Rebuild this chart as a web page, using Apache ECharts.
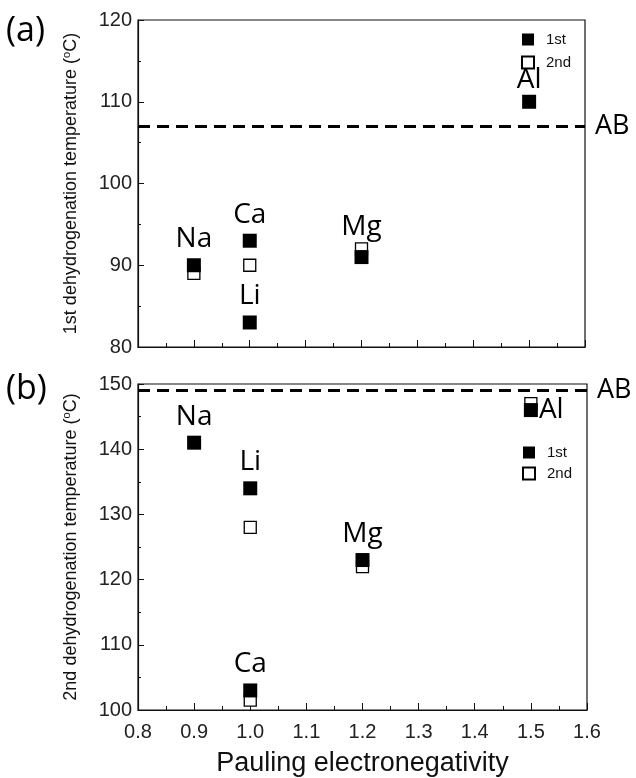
<!DOCTYPE html>
<html lang="en">
<head>
<meta charset="UTF-8">
<title>dehydrogenation temperature</title>
<script src="https://cdn.jsdelivr.net/npm/echarts@6/dist/echarts.min.js"></script>
<style>
  html, body { margin: 0; padding: 0; background: #fff; }
  #main { width: 636px; height: 778px; }
</style>
</head>
<body>
<div id="main"></div>
<script>
// data
var elements = ['Na', 'Ca', 'Li', 'Mg', 'Al'];
var electroneg = [0.9, 1.0, 1.0, 1.2, 1.5];
var firstTempA = [90, 93, 83, 91, 110];    // (a) 1st run
var secondTempA = [89, 90, null, 92, null]; // (a) 2nd run
var firstTempB = [141, 103, 134, 123, 146]; // (b) 1st run
var secondTempB = [null, 101.5, 128, 122, 147]; // (b) 2nd run
var abLineA = 107;
var abLineB = 149;

var axisFont = 'Liberation Sans';
var labelFont = 'Open Sans';

// label tweaks for the element names (only looks)
var labelPosA = { Mg: [0, -4], Al: [0, 4] };
var labelPosB = { Al: 'right' };

function pts(vals, names, pos) {
  var out = [];
  for (var i = 0; i < vals.length; i++) {
    if (vals[i] == null) continue;
    var item = { name: elements[i], value: [electroneg[i], vals[i]] };
    if (pos && pos[elements[i]]) {
      var p = pos[elements[i]];
      if (typeof p === 'string') item.label = { position: p, distance: 1 };
      else item.label = { offset: p };
    }
    out.push(item);
  }
  return out;
}

var myChart = echarts.init(document.getElementById('main'));

var xAxisBase = {
  type: 'value', min: 0.8, max: 1.6, interval: 0.1,
  axisLine: { onZero: false, lineStyle: { color: '#111', width: 1.2 } },
  axisTick: { inside: true, length: 7, lineStyle: { color: '#111' } },
  minorTick: { show: true, splitNumber: 2, length: 4, lineStyle: { color: '#111' } },
  splitLine: { show: false },
  axisLabel: {
    fontFamily: axisFont, fontSize: 20, color: '#222', margin: 12,
    formatter: function (v) { return v.toFixed(1); }
  }
};

function yAxisDef(grid, min, max, name) {
  return {
    type: 'value', gridIndex: grid, min: min, max: max, interval: 10,
    name: name, nameLocation: 'middle', nameGap: 57,
    nameTextStyle: {
      fontFamily: axisFont, fontSize: 18, color: '#111',
      rich: { sup: { fontSize: 11, fontFamily: axisFont, color: '#111', padding: [0, 0, 9, 0] } }
    },
    axisLine: { show: true, lineStyle: { color: '#111', width: 1.2 } },
    axisTick: { show: true, inside: true, length: 6, lineStyle: { color: '#111' } },
    minorTick: { show: true, splitNumber: 2, length: 3, lineStyle: { color: '#111' } },
    splitLine: { show: false },
    axisLabel: { fontFamily: axisFont, fontSize: 20, color: '#222', margin: 6 }
  };
}

function abMark(val) {
  return {
    silent: true, symbol: 'none',
    lineStyle: { color: '#000', width: 3, type: [12, 7], opacity: 1 },
    label: { show: true, position: 'end', formatter: 'AB', distance: 10,
             fontFamily: labelFont, fontSize: 27, color: '#000' },
    data: [{ yAxis: val }]
  };
}

var filledStyle = { color: '#000', borderColor: '#000', borderWidth: 0, opacity: 1 };
var openStyle = { color: '#fff', borderColor: '#000', borderWidth: 1.3, opacity: 1 };
var nameLabel = {
  show: true, position: 'top', distance: 5,
  formatter: '{b}', fontFamily: labelFont, fontSize: 28, color: '#000'
};
var legendText = { fontFamily: axisFont, fontSize: 15, color: '#111', padding: [0, 0, 0, 7] };

var option = {
  animation: false,
  backgroundColor: '#fff',
  grid: [
    { left: 138, top: 20, width: 447, height: 327, show: true, borderColor: '#111', borderWidth: 1.2 },
    { left: 138, top: 384, width: 449, height: 327, show: true, borderColor: '#111', borderWidth: 1.2 }
  ],
  xAxis: [
    Object.assign({}, xAxisBase, { gridIndex: 0, axisLabel: { show: false } }),
    Object.assign({}, xAxisBase, {
      gridIndex: 1, name: 'Pauling electronegativity', nameLocation: 'middle', nameGap: 40,
      nameTextStyle: { fontFamily: axisFont, fontSize: 27, color: '#111' }
    })
  ],
  yAxis: [
    yAxisDef(0, 80, 120, '1st dehydrogenation temperature ({sup|o}C)'),
    yAxisDef(1, 100, 150, '2nd dehydrogenation temperature ({sup|o}C)')
  ],
  legend: [
    { data: ['1st', '2nd'], orient: 'vertical', left: 516, top: 27, itemGap: 8,
      icon: 'rect', itemWidth: 12, itemHeight: 12, textStyle: legendText },
    { data: ['1st', '2nd'], orient: 'vertical', left: 517, top: 440, itemGap: 6,
      icon: 'rect', itemWidth: 12, itemHeight: 12, textStyle: legendText }
  ],
  graphic: [
    { type: 'text', left: 6, top: 14, style: { text: '(a)', fontFamily: labelFont, fontSize: 34, fill: '#000' } },
    { type: 'text', left: 6, top: 372, style: { text: '(b)', fontFamily: labelFont, fontSize: 34, fill: '#000' } }
  ],
  series: [
    { name: '2nd', type: 'scatter', xAxisIndex: 0, yAxisIndex: 0, symbol: 'rect', symbolSize: 12,
      itemStyle: openStyle, data: pts(secondTempA) },
    { name: '1st', type: 'scatter', xAxisIndex: 0, yAxisIndex: 0, symbol: 'rect', symbolSize: 14,
      itemStyle: filledStyle, label: nameLabel, data: pts(firstTempA, elements, labelPosA),
      markLine: abMark(abLineA) },
    { name: '2nd', type: 'scatter', xAxisIndex: 1, yAxisIndex: 1, symbol: 'rect', symbolSize: 12,
      itemStyle: openStyle, data: pts(secondTempB) },
    { name: '1st', type: 'scatter', xAxisIndex: 1, yAxisIndex: 1, symbol: 'rect', symbolSize: 14,
      itemStyle: filledStyle, label: nameLabel, data: pts(firstTempB, elements, labelPosB),
      markLine: abMark(abLineB) }
  ]
};
myChart.setOption(option);
</script>
</body>
</html>
